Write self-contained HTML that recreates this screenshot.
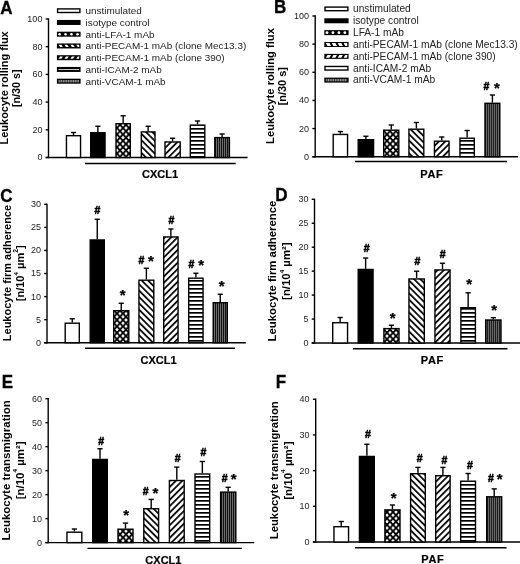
<!DOCTYPE html>
<html><head><meta charset="utf-8"><style>
html,body{margin:0;padding:0;background:#fff;}
svg{display:block;will-change:transform;filter:blur(0.3px);}
text{font-family:"Liberation Sans", sans-serif;}
</style></head><body>
<svg width="520" height="564" viewBox="0 0 520 564" font-family='"Liberation Sans", sans-serif'>
<defs>
<pattern id="pX" patternUnits="userSpaceOnUse" width="6" height="6.4" x="0" y="0">
 <rect width="6" height="6.4" fill="#000"/>
 <path d="M3 1.4 L4.8 3.2 L3 5 L1.2 3.2Z M0 -1.8 L1.8 0 L0 1.8 L-1.8 0Z M6 -1.8 L7.8 0 L6 1.8 L4.2 0Z M0 4.6 L1.8 6.4 L0 8.2 L-1.8 6.4Z M6 4.6 L7.8 6.4 L6 8.2 L4.2 6.4Z" fill="#fff"/>
</pattern>
<pattern id="pB" patternUnits="userSpaceOnUse" width="4.5" height="6" patternTransform="rotate(-45)">
 <rect width="4.5" height="6" fill="#fff"/>
 <rect x="0" y="0" width="1.7" height="6" fill="#000"/>
</pattern>
<pattern id="pF" patternUnits="userSpaceOnUse" width="4.5" height="6" patternTransform="rotate(45)">
 <rect width="4.5" height="6" fill="#fff"/>
 <rect x="0" y="0" width="1.7" height="6" fill="#000"/>
</pattern>
<pattern id="pH" patternUnits="userSpaceOnUse" width="10" height="4" >
 <rect width="10" height="4" fill="#fff"/>
 <rect x="0" y="0" width="10" height="1.7" fill="#000"/>
</pattern>
<pattern id="pVs" patternUnits="userSpaceOnUse" width="1.7" height="10" >
 <rect width="1.7" height="10" fill="#333"/>
 <rect x="0" y="0" width="0.8" height="10" fill="#aaa"/>
</pattern>
<pattern id="pV2" patternUnits="userSpaceOnUse" width="2" height="10" >
 <rect width="2" height="10" fill="#1e1e1e"/>
 <rect x="0" y="0" width="0.7" height="10" fill="#888"/>
</pattern>
<pattern id="pV" patternUnits="userSpaceOnUse" width="2" height="10" >
 <rect width="2" height="10" fill="#111"/>
 <rect x="0" y="0" width="0.6" height="10" fill="#aaa"/>
</pattern>
</defs>
<rect width="520" height="564" fill="#fff"/>
<line x1="48.5" y1="18.35" x2="48.5" y2="158.15" stroke="#000" stroke-width="1.4"/>
<line x1="45.7" y1="157.5" x2="247.6" y2="157.5" stroke="#000" stroke-width="1.4"/>
<line x1="45.7" y1="157.5" x2="48.5" y2="157.5" stroke="#000" stroke-width="1.4"/>
<text transform="translate(42.4,160.4) scale(1.0,1)" text-anchor="end" font-size="9.0" fill="#222">0</text>
<line x1="45.7" y1="129.8" x2="48.5" y2="129.8" stroke="#000" stroke-width="1.4"/>
<text transform="translate(42.4,132.7) scale(1.0,1)" text-anchor="end" font-size="9.0" fill="#222">20</text>
<line x1="45.7" y1="102.1" x2="48.5" y2="102.1" stroke="#000" stroke-width="1.4"/>
<text transform="translate(42.4,105) scale(1.0,1)" text-anchor="end" font-size="9.0" fill="#222">40</text>
<line x1="45.7" y1="74.4" x2="48.5" y2="74.4" stroke="#000" stroke-width="1.4"/>
<text transform="translate(42.4,77.3) scale(1.0,1)" text-anchor="end" font-size="9.0" fill="#222">60</text>
<line x1="45.7" y1="46.7" x2="48.5" y2="46.7" stroke="#000" stroke-width="1.4"/>
<text transform="translate(42.4,49.6) scale(1.0,1)" text-anchor="end" font-size="9.0" fill="#222">80</text>
<line x1="45.7" y1="19" x2="48.5" y2="19" stroke="#000" stroke-width="1.4"/>
<text transform="translate(42.4,21.9) scale(1.0,1)" text-anchor="end" font-size="9.0" fill="#222">100</text>
<line x1="73.5" y1="135" x2="73.5" y2="132.5" stroke="#000" stroke-width="1.4"/>
<line x1="70.9" y1="132.5" x2="76.1" y2="132.5" stroke="#000" stroke-width="1.4"/>
<rect x="66.45" y="135.7" width="14.1" height="21.8" fill="#fff" stroke="#000" stroke-width="1.4"/>
<line x1="97.88" y1="132" x2="97.88" y2="126.25" stroke="#000" stroke-width="1.4"/>
<line x1="95.28" y1="126.25" x2="100.47" y2="126.25" stroke="#000" stroke-width="1.4"/>
<rect x="90.7" y="132.7" width="14.35" height="24.8" fill="#000" stroke="#000" stroke-width="1.4"/>
<line x1="123.15" y1="123" x2="123.15" y2="115.8" stroke="#000" stroke-width="1.4"/>
<line x1="120.55" y1="115.8" x2="125.75" y2="115.8" stroke="#000" stroke-width="1.4"/>
<rect x="116" y="123.7" width="14.3" height="33.8" fill="url(#pX)" stroke="#000" stroke-width="1.4"/>
<line x1="148.15" y1="131.2" x2="148.15" y2="126.25" stroke="#000" stroke-width="1.4"/>
<line x1="145.55" y1="126.25" x2="150.75" y2="126.25" stroke="#000" stroke-width="1.4"/>
<rect x="141.3" y="131.9" width="13.7" height="25.6" fill="url(#pB)" stroke="#000" stroke-width="1.4"/>
<line x1="172.6" y1="141.25" x2="172.6" y2="138.25" stroke="#000" stroke-width="1.4"/>
<line x1="170" y1="138.25" x2="175.2" y2="138.25" stroke="#000" stroke-width="1.4"/>
<rect x="165" y="141.95" width="15.2" height="15.55" fill="url(#pF)" stroke="#000" stroke-width="1.4"/>
<line x1="197.55" y1="124.4" x2="197.55" y2="121" stroke="#000" stroke-width="1.4"/>
<line x1="194.95" y1="121" x2="200.15" y2="121" stroke="#000" stroke-width="1.4"/>
<rect x="190.3" y="125.1" width="14.5" height="32.4" fill="url(#pH)" stroke="#000" stroke-width="1.4"/>
<line x1="222.1" y1="136.9" x2="222.1" y2="134" stroke="#000" stroke-width="1.4"/>
<line x1="219.5" y1="134" x2="224.7" y2="134" stroke="#000" stroke-width="1.4"/>
<rect x="214.8" y="137.6" width="14.6" height="19.9" fill="url(#pV)" stroke="#000" stroke-width="1.4"/>
<line x1="85" y1="163.5" x2="235.7" y2="163.5" stroke="#000" stroke-width="1.4"/>
<text x="160" y="178" text-anchor="middle" font-size="11" font-weight="bold" stroke="#000" stroke-width="0.2">CXCL1</text>
<text transform="translate(0.2,14.2) scale(1,1.08)" font-size="17" font-weight="bold" stroke="#000" stroke-width="0.3">A</text>
<text transform="translate(8.2,87.85) rotate(-90)" text-anchor="middle" font-size="11" font-weight="bold" textLength="113.1" lengthAdjust="spacingAndGlyphs">Leukocyte rolling flux</text>
<text transform="translate(20.3,88.25) rotate(-90)" text-anchor="middle" font-size="11" font-weight="bold" textLength="37.7" lengthAdjust="spacingAndGlyphs">[n/30 s]</text>
<line x1="315.2" y1="15.35" x2="315.2" y2="157.4" stroke="#000" stroke-width="1.4"/>
<line x1="312.4" y1="156.75" x2="518.1" y2="156.75" stroke="#000" stroke-width="1.4"/>
<line x1="312.4" y1="156.75" x2="315.2" y2="156.75" stroke="#000" stroke-width="1.4"/>
<text transform="translate(309.1,159.65) scale(1.0,1)" text-anchor="end" font-size="9.0" fill="#222">0</text>
<line x1="312.4" y1="128.6" x2="315.2" y2="128.6" stroke="#000" stroke-width="1.4"/>
<text transform="translate(309.1,131.5) scale(1.0,1)" text-anchor="end" font-size="9.0" fill="#222">20</text>
<line x1="312.4" y1="100.45" x2="315.2" y2="100.45" stroke="#000" stroke-width="1.4"/>
<text transform="translate(309.1,103.35) scale(1.0,1)" text-anchor="end" font-size="9.0" fill="#222">40</text>
<line x1="312.4" y1="72.3" x2="315.2" y2="72.3" stroke="#000" stroke-width="1.4"/>
<text transform="translate(309.1,75.2) scale(1.0,1)" text-anchor="end" font-size="9.0" fill="#222">60</text>
<line x1="312.4" y1="44.15" x2="315.2" y2="44.15" stroke="#000" stroke-width="1.4"/>
<text transform="translate(309.1,47.05) scale(1.0,1)" text-anchor="end" font-size="9.0" fill="#222">80</text>
<line x1="312.4" y1="16" x2="315.2" y2="16" stroke="#000" stroke-width="1.4"/>
<text transform="translate(309.1,18.9) scale(1.0,1)" text-anchor="end" font-size="9.0" fill="#222">100</text>
<line x1="340.38" y1="133.75" x2="340.38" y2="131.5" stroke="#000" stroke-width="1.4"/>
<line x1="337.77" y1="131.5" x2="342.98" y2="131.5" stroke="#000" stroke-width="1.4"/>
<rect x="333.2" y="134.45" width="14.35" height="22.3" fill="#fff" stroke="#000" stroke-width="1.4"/>
<line x1="365.88" y1="139" x2="365.88" y2="136.25" stroke="#000" stroke-width="1.4"/>
<line x1="363.27" y1="136.25" x2="368.48" y2="136.25" stroke="#000" stroke-width="1.4"/>
<rect x="358.2" y="139.7" width="15.35" height="17.05" fill="#000" stroke="#000" stroke-width="1.4"/>
<line x1="391.25" y1="129.5" x2="391.25" y2="125" stroke="#000" stroke-width="1.4"/>
<line x1="388.65" y1="125" x2="393.85" y2="125" stroke="#000" stroke-width="1.4"/>
<rect x="383.7" y="130.2" width="15.1" height="26.55" fill="url(#pX)" stroke="#000" stroke-width="1.4"/>
<line x1="416.38" y1="128.5" x2="416.38" y2="122.5" stroke="#000" stroke-width="1.4"/>
<line x1="413.77" y1="122.5" x2="418.98" y2="122.5" stroke="#000" stroke-width="1.4"/>
<rect x="408.95" y="129.2" width="14.85" height="27.55" fill="url(#pB)" stroke="#000" stroke-width="1.4"/>
<line x1="441.75" y1="140.5" x2="441.75" y2="137" stroke="#000" stroke-width="1.4"/>
<line x1="439.15" y1="137" x2="444.35" y2="137" stroke="#000" stroke-width="1.4"/>
<rect x="434.45" y="141.2" width="14.6" height="15.55" fill="url(#pF)" stroke="#000" stroke-width="1.4"/>
<line x1="467.12" y1="137.5" x2="467.12" y2="130.5" stroke="#000" stroke-width="1.4"/>
<line x1="464.52" y1="130.5" x2="469.73" y2="130.5" stroke="#000" stroke-width="1.4"/>
<rect x="459.95" y="138.2" width="14.35" height="18.55" fill="url(#pH)" stroke="#000" stroke-width="1.4"/>
<line x1="492.4" y1="102.6" x2="492.4" y2="95" stroke="#000" stroke-width="1.4"/>
<line x1="489.8" y1="95" x2="495" y2="95" stroke="#000" stroke-width="1.4"/>
<rect x="485" y="103.3" width="14.8" height="53.45" fill="url(#pV2)" stroke="#000" stroke-width="1.4"/>
<text x="483.58" y="90.05" font-size="10.5" font-weight="bold" fill="#000" stroke="#000" stroke-width="0.5">#</text>
<text x="494.07" y="92.7" font-size="15" font-weight="bold" fill="#000" stroke="#000" stroke-width="0.25">*</text>
<line x1="355" y1="161.5" x2="507" y2="161.5" stroke="#000" stroke-width="1.4"/>
<text x="431.5" y="177.5" text-anchor="middle" font-size="11" font-weight="bold" stroke="#000" stroke-width="0.2" textLength="22.6" lengthAdjust="spacing">PAF</text>
<text transform="translate(274,13.2) scale(1,1.08)" font-size="17" font-weight="bold" stroke="#000" stroke-width="0.3">B</text>
<text transform="translate(274,86) rotate(-90)" text-anchor="middle" font-size="11" font-weight="bold" textLength="115.8" lengthAdjust="spacingAndGlyphs">Leukocyte rolling flux</text>
<text transform="translate(286.3,86.2) rotate(-90)" text-anchor="middle" font-size="11" font-weight="bold" textLength="38.25" lengthAdjust="spacingAndGlyphs">[n/30 s]</text>
<line x1="47" y1="203.65" x2="47" y2="343.4" stroke="#000" stroke-width="1.4"/>
<line x1="44.2" y1="342.75" x2="245.8" y2="342.75" stroke="#000" stroke-width="1.4"/>
<line x1="44.2" y1="342.75" x2="47" y2="342.75" stroke="#000" stroke-width="1.4"/>
<text transform="translate(40.9,345.65) scale(1.0,1)" text-anchor="end" font-size="9.0" fill="#222">0</text>
<line x1="44.2" y1="319.68" x2="47" y2="319.68" stroke="#000" stroke-width="1.4"/>
<text transform="translate(40.9,322.57) scale(1.0,1)" text-anchor="end" font-size="9.0" fill="#222">5</text>
<line x1="44.2" y1="296.6" x2="47" y2="296.6" stroke="#000" stroke-width="1.4"/>
<text transform="translate(40.9,299.5) scale(1.0,1)" text-anchor="end" font-size="9.0" fill="#222">10</text>
<line x1="44.2" y1="273.52" x2="47" y2="273.52" stroke="#000" stroke-width="1.4"/>
<text transform="translate(40.9,276.42) scale(1.0,1)" text-anchor="end" font-size="9.0" fill="#222">15</text>
<line x1="44.2" y1="250.45" x2="47" y2="250.45" stroke="#000" stroke-width="1.4"/>
<text transform="translate(40.9,253.35) scale(1.0,1)" text-anchor="end" font-size="9.0" fill="#222">20</text>
<line x1="44.2" y1="227.38" x2="47" y2="227.38" stroke="#000" stroke-width="1.4"/>
<text transform="translate(40.9,230.28) scale(1.0,1)" text-anchor="end" font-size="9.0" fill="#222">25</text>
<line x1="44.2" y1="204.3" x2="47" y2="204.3" stroke="#000" stroke-width="1.4"/>
<text transform="translate(40.9,207.2) scale(1.0,1)" text-anchor="end" font-size="9.0" fill="#222">30</text>
<line x1="72.25" y1="322.5" x2="72.25" y2="318.75" stroke="#000" stroke-width="1.4"/>
<line x1="69.65" y1="318.75" x2="74.85" y2="318.75" stroke="#000" stroke-width="1.4"/>
<rect x="65.2" y="323.2" width="14.1" height="19.55" fill="#fff" stroke="#000" stroke-width="1.4"/>
<line x1="97.25" y1="239.25" x2="97.25" y2="219.25" stroke="#000" stroke-width="1.4"/>
<line x1="94.65" y1="219.25" x2="99.85" y2="219.25" stroke="#000" stroke-width="1.4"/>
<rect x="90.2" y="239.95" width="14.1" height="102.8" fill="#000" stroke="#000" stroke-width="1.4"/>
<line x1="121.25" y1="310" x2="121.25" y2="303.25" stroke="#000" stroke-width="1.4"/>
<line x1="118.65" y1="303.25" x2="123.85" y2="303.25" stroke="#000" stroke-width="1.4"/>
<rect x="113.7" y="310.7" width="15.1" height="32.05" fill="url(#pX)" stroke="#000" stroke-width="1.4"/>
<line x1="146.38" y1="279.5" x2="146.38" y2="268.25" stroke="#000" stroke-width="1.4"/>
<line x1="143.78" y1="268.25" x2="148.97" y2="268.25" stroke="#000" stroke-width="1.4"/>
<rect x="138.95" y="280.2" width="14.85" height="62.55" fill="url(#pB)" stroke="#000" stroke-width="1.4"/>
<line x1="170.88" y1="236.25" x2="170.88" y2="229" stroke="#000" stroke-width="1.4"/>
<line x1="168.28" y1="229" x2="173.47" y2="229" stroke="#000" stroke-width="1.4"/>
<rect x="163.7" y="236.95" width="14.35" height="105.8" fill="url(#pF)" stroke="#000" stroke-width="1.4"/>
<line x1="195.88" y1="277.5" x2="195.88" y2="273.25" stroke="#000" stroke-width="1.4"/>
<line x1="193.28" y1="273.25" x2="198.47" y2="273.25" stroke="#000" stroke-width="1.4"/>
<rect x="188.7" y="278.2" width="14.35" height="64.55" fill="url(#pH)" stroke="#000" stroke-width="1.4"/>
<line x1="220.25" y1="302" x2="220.25" y2="294.25" stroke="#000" stroke-width="1.4"/>
<line x1="217.65" y1="294.25" x2="222.85" y2="294.25" stroke="#000" stroke-width="1.4"/>
<rect x="213.2" y="302.7" width="14.1" height="40.05" fill="url(#pV)" stroke="#000" stroke-width="1.4"/>
<text x="94.48" y="213.9" font-size="10.5" font-weight="bold" fill="#000" stroke="#000" stroke-width="0.5">#</text>
<text x="119.82" y="300.35" font-size="15" font-weight="bold" fill="#000" stroke="#000" stroke-width="0.25">*</text>
<text x="138.58" y="264.1" font-size="10.5" font-weight="bold" fill="#000" stroke="#000" stroke-width="0.5">#</text>
<text x="147.97" y="266.05" font-size="15" font-weight="bold" fill="#000" stroke="#000" stroke-width="0.25">*</text>
<text x="168.48" y="223.8" font-size="10.5" font-weight="bold" fill="#000" stroke="#000" stroke-width="0.5">#</text>
<text x="188.58" y="268" font-size="10.5" font-weight="bold" fill="#000" stroke="#000" stroke-width="0.5">#</text>
<text x="198.27" y="270.45" font-size="15" font-weight="bold" fill="#000" stroke="#000" stroke-width="0.25">*</text>
<text x="218.87" y="290.85" font-size="15" font-weight="bold" fill="#000" stroke="#000" stroke-width="0.25">*</text>
<line x1="85" y1="348.25" x2="235" y2="348.25" stroke="#000" stroke-width="1.4"/>
<text x="158.5" y="363.7" text-anchor="middle" font-size="11" font-weight="bold" stroke="#000" stroke-width="0.2">CXCL1</text>
<text transform="translate(0.3,201.8) scale(1,1.08)" font-size="17" font-weight="bold" stroke="#000" stroke-width="0.3">C</text>
<text transform="translate(10.7,273.05) rotate(-90)" text-anchor="middle" font-size="11" font-weight="bold" textLength="136.3" lengthAdjust="spacingAndGlyphs">Leukocyte firm adherence</text>
<text transform="translate(23.8,273.35) rotate(-90)" text-anchor="middle" font-size="11" font-weight="bold" textLength="55.9" lengthAdjust="spacingAndGlyphs">[n/10<tspan font-size="6.2" dy="-6.2">4</tspan><tspan dy="6.2"> µm</tspan><tspan font-size="6.6" dy="-5.8">2</tspan><tspan dy="5.8">]</tspan></text>
<line x1="314.5" y1="198.65" x2="314.5" y2="343.65" stroke="#000" stroke-width="1.4"/>
<line x1="311.7" y1="343" x2="520" y2="343" stroke="#000" stroke-width="1.4"/>
<line x1="311.7" y1="343" x2="314.5" y2="343" stroke="#000" stroke-width="1.4"/>
<text transform="translate(308.4,345.9) scale(1.0,1)" text-anchor="end" font-size="9.0" fill="#222">0</text>
<line x1="311.7" y1="319.05" x2="314.5" y2="319.05" stroke="#000" stroke-width="1.4"/>
<text transform="translate(308.4,321.95) scale(1.0,1)" text-anchor="end" font-size="9.0" fill="#222">5</text>
<line x1="311.7" y1="295.1" x2="314.5" y2="295.1" stroke="#000" stroke-width="1.4"/>
<text transform="translate(308.4,298) scale(1.0,1)" text-anchor="end" font-size="9.0" fill="#222">10</text>
<line x1="311.7" y1="271.15" x2="314.5" y2="271.15" stroke="#000" stroke-width="1.4"/>
<text transform="translate(308.4,274.05) scale(1.0,1)" text-anchor="end" font-size="9.0" fill="#222">15</text>
<line x1="311.7" y1="247.2" x2="314.5" y2="247.2" stroke="#000" stroke-width="1.4"/>
<text transform="translate(308.4,250.1) scale(1.0,1)" text-anchor="end" font-size="9.0" fill="#222">20</text>
<line x1="311.7" y1="223.25" x2="314.5" y2="223.25" stroke="#000" stroke-width="1.4"/>
<text transform="translate(308.4,226.15) scale(1.0,1)" text-anchor="end" font-size="9.0" fill="#222">25</text>
<line x1="311.7" y1="199.3" x2="314.5" y2="199.3" stroke="#000" stroke-width="1.4"/>
<text transform="translate(308.4,202.2) scale(1.0,1)" text-anchor="end" font-size="9.0" fill="#222">30</text>
<line x1="340.12" y1="322" x2="340.12" y2="317.5" stroke="#000" stroke-width="1.4"/>
<line x1="337.52" y1="317.5" x2="342.73" y2="317.5" stroke="#000" stroke-width="1.4"/>
<rect x="332.7" y="322.7" width="14.85" height="20.3" fill="#fff" stroke="#000" stroke-width="1.4"/>
<line x1="365.62" y1="268.75" x2="365.62" y2="258" stroke="#000" stroke-width="1.4"/>
<line x1="363.02" y1="258" x2="368.23" y2="258" stroke="#000" stroke-width="1.4"/>
<rect x="358.2" y="269.45" width="14.85" height="73.55" fill="#000" stroke="#000" stroke-width="1.4"/>
<line x1="391.45" y1="327.9" x2="391.45" y2="325.2" stroke="#000" stroke-width="1.4"/>
<line x1="388.85" y1="325.2" x2="394.05" y2="325.2" stroke="#000" stroke-width="1.4"/>
<rect x="383.9" y="328.6" width="15.1" height="14.4" fill="url(#pX)" stroke="#000" stroke-width="1.4"/>
<line x1="416.62" y1="278.25" x2="416.62" y2="271.25" stroke="#000" stroke-width="1.4"/>
<line x1="414.02" y1="271.25" x2="419.23" y2="271.25" stroke="#000" stroke-width="1.4"/>
<rect x="408.95" y="278.95" width="15.35" height="64.05" fill="url(#pB)" stroke="#000" stroke-width="1.4"/>
<line x1="442.5" y1="269.25" x2="442.5" y2="263.25" stroke="#000" stroke-width="1.4"/>
<line x1="439.9" y1="263.25" x2="445.1" y2="263.25" stroke="#000" stroke-width="1.4"/>
<rect x="434.95" y="269.95" width="15.1" height="73.05" fill="url(#pF)" stroke="#000" stroke-width="1.4"/>
<line x1="468.15" y1="307" x2="468.15" y2="292.8" stroke="#000" stroke-width="1.4"/>
<line x1="465.55" y1="292.8" x2="470.75" y2="292.8" stroke="#000" stroke-width="1.4"/>
<rect x="460.9" y="307.7" width="14.5" height="35.3" fill="url(#pH)" stroke="#000" stroke-width="1.4"/>
<line x1="493.35" y1="319.3" x2="493.35" y2="317.7" stroke="#000" stroke-width="1.4"/>
<line x1="490.75" y1="317.7" x2="495.95" y2="317.7" stroke="#000" stroke-width="1.4"/>
<rect x="485.7" y="320" width="15.3" height="23" fill="url(#pV2)" stroke="#000" stroke-width="1.4"/>
<text x="363.83" y="251.8" font-size="10.5" font-weight="bold" fill="#000" stroke="#000" stroke-width="0.5">#</text>
<text x="389.67" y="323.15" font-size="15" font-weight="bold" fill="#000" stroke="#000" stroke-width="0.25">*</text>
<text x="414.48" y="264.5" font-size="10.5" font-weight="bold" fill="#000" stroke="#000" stroke-width="0.5">#</text>
<text x="439.83" y="258.3" font-size="10.5" font-weight="bold" fill="#000" stroke="#000" stroke-width="0.5">#</text>
<text x="466.32" y="289.05" font-size="15" font-weight="bold" fill="#000" stroke="#000" stroke-width="0.25">*</text>
<text x="491.37" y="315.05" font-size="15" font-weight="bold" fill="#000" stroke="#000" stroke-width="0.25">*</text>
<line x1="353" y1="348.8" x2="507.5" y2="348.8" stroke="#000" stroke-width="1.4"/>
<text x="432" y="364" text-anchor="middle" font-size="11" font-weight="bold" stroke="#000" stroke-width="0.2" textLength="22.6" lengthAdjust="spacing">PAF</text>
<text transform="translate(275.2,200.8) scale(1,1.08)" font-size="17" font-weight="bold" stroke="#000" stroke-width="0.3">D</text>
<text transform="translate(276,271) rotate(-90)" text-anchor="middle" font-size="11" font-weight="bold" textLength="140.8" lengthAdjust="spacingAndGlyphs">Leukocyte firm adherence</text>
<text transform="translate(290.1,271.15) rotate(-90)" text-anchor="middle" font-size="11" font-weight="bold" textLength="57.5" lengthAdjust="spacingAndGlyphs">[n/10<tspan font-size="6.2" dy="-6.2">4</tspan><tspan dy="6.2"> µm²]</tspan></text>
<line x1="48.2" y1="398.05" x2="48.2" y2="543.25" stroke="#000" stroke-width="1.4"/>
<line x1="45.4" y1="542.6" x2="254.25" y2="542.6" stroke="#000" stroke-width="1.4"/>
<line x1="45.4" y1="542.6" x2="48.2" y2="542.6" stroke="#000" stroke-width="1.4"/>
<text transform="translate(42.1,545.5) scale(1.0,1)" text-anchor="end" font-size="9.0" fill="#222">0</text>
<line x1="45.4" y1="518.62" x2="48.2" y2="518.62" stroke="#000" stroke-width="1.4"/>
<text transform="translate(42.1,521.52) scale(1.0,1)" text-anchor="end" font-size="9.0" fill="#222">10</text>
<line x1="45.4" y1="494.63" x2="48.2" y2="494.63" stroke="#000" stroke-width="1.4"/>
<text transform="translate(42.1,497.53) scale(1.0,1)" text-anchor="end" font-size="9.0" fill="#222">20</text>
<line x1="45.4" y1="470.65" x2="48.2" y2="470.65" stroke="#000" stroke-width="1.4"/>
<text transform="translate(42.1,473.55) scale(1.0,1)" text-anchor="end" font-size="9.0" fill="#222">30</text>
<line x1="45.4" y1="446.67" x2="48.2" y2="446.67" stroke="#000" stroke-width="1.4"/>
<text transform="translate(42.1,449.57) scale(1.0,1)" text-anchor="end" font-size="9.0" fill="#222">40</text>
<line x1="45.4" y1="422.68" x2="48.2" y2="422.68" stroke="#000" stroke-width="1.4"/>
<text transform="translate(42.1,425.58) scale(1.0,1)" text-anchor="end" font-size="9.0" fill="#222">50</text>
<line x1="45.4" y1="398.7" x2="48.2" y2="398.7" stroke="#000" stroke-width="1.4"/>
<text transform="translate(42.1,401.6) scale(1.0,1)" text-anchor="end" font-size="9.0" fill="#222">60</text>
<line x1="74.38" y1="531.5" x2="74.38" y2="529" stroke="#000" stroke-width="1.4"/>
<line x1="71.78" y1="529" x2="76.97" y2="529" stroke="#000" stroke-width="1.4"/>
<rect x="66.95" y="532.2" width="14.85" height="10.4" fill="#fff" stroke="#000" stroke-width="1.4"/>
<line x1="100" y1="458.75" x2="100" y2="448.75" stroke="#000" stroke-width="1.4"/>
<line x1="97.4" y1="448.75" x2="102.6" y2="448.75" stroke="#000" stroke-width="1.4"/>
<rect x="92.7" y="459.45" width="14.6" height="83.15" fill="#000" stroke="#000" stroke-width="1.4"/>
<line x1="125.5" y1="528.5" x2="125.5" y2="523.1" stroke="#000" stroke-width="1.4"/>
<line x1="122.9" y1="523.1" x2="128.1" y2="523.1" stroke="#000" stroke-width="1.4"/>
<rect x="118" y="529.2" width="15" height="13.4" fill="url(#pX)" stroke="#000" stroke-width="1.4"/>
<line x1="151.2" y1="508" x2="151.2" y2="499.4" stroke="#000" stroke-width="1.4"/>
<line x1="148.6" y1="499.4" x2="153.8" y2="499.4" stroke="#000" stroke-width="1.4"/>
<rect x="143.8" y="508.7" width="14.8" height="33.9" fill="url(#pB)" stroke="#000" stroke-width="1.4"/>
<line x1="176.8" y1="479.8" x2="176.8" y2="467.1" stroke="#000" stroke-width="1.4"/>
<line x1="174.2" y1="467.1" x2="179.4" y2="467.1" stroke="#000" stroke-width="1.4"/>
<rect x="169.4" y="480.5" width="14.8" height="62.1" fill="url(#pF)" stroke="#000" stroke-width="1.4"/>
<line x1="202.35" y1="473.3" x2="202.35" y2="461.5" stroke="#000" stroke-width="1.4"/>
<line x1="199.75" y1="461.5" x2="204.95" y2="461.5" stroke="#000" stroke-width="1.4"/>
<rect x="195" y="474" width="14.7" height="68.6" fill="url(#pH)" stroke="#000" stroke-width="1.4"/>
<line x1="228.2" y1="491.4" x2="228.2" y2="487.3" stroke="#000" stroke-width="1.4"/>
<line x1="225.6" y1="487.3" x2="230.8" y2="487.3" stroke="#000" stroke-width="1.4"/>
<rect x="220.6" y="492.1" width="15.2" height="50.5" fill="url(#pV)" stroke="#000" stroke-width="1.4"/>
<text x="98.18" y="444.9" font-size="10.5" font-weight="bold" fill="#000" stroke="#000" stroke-width="0.5">#</text>
<text x="123.17" y="520.15" font-size="15" font-weight="bold" fill="#000" stroke="#000" stroke-width="0.25">*</text>
<text x="142.68" y="494.65" font-size="10.5" font-weight="bold" fill="#000" stroke="#000" stroke-width="0.5">#</text>
<text x="152.57" y="498.05" font-size="15" font-weight="bold" fill="#000" stroke="#000" stroke-width="0.25">*</text>
<text x="174.73" y="462.15" font-size="10.5" font-weight="bold" fill="#000" stroke="#000" stroke-width="0.5">#</text>
<text x="200.48" y="455.65" font-size="10.5" font-weight="bold" fill="#000" stroke="#000" stroke-width="0.5">#</text>
<text x="221.83" y="481.7" font-size="10.5" font-weight="bold" fill="#000" stroke="#000" stroke-width="0.5">#</text>
<text x="230.77" y="484.45" font-size="15" font-weight="bold" fill="#000" stroke="#000" stroke-width="0.25">*</text>
<line x1="87.5" y1="548.4" x2="241.8" y2="548.4" stroke="#000" stroke-width="1.4"/>
<text x="163.4" y="564.2" text-anchor="middle" font-size="11" font-weight="bold" stroke="#000" stroke-width="0.2">CXCL1</text>
<text transform="translate(1.8,387.9) scale(1,1.08)" font-size="17" font-weight="bold" stroke="#000" stroke-width="0.3">E</text>
<text transform="translate(10.1,470.35) rotate(-90)" text-anchor="middle" font-size="11" font-weight="bold" textLength="140.1" lengthAdjust="spacingAndGlyphs">Leukocyte transmigration</text>
<text transform="translate(23.5,470.35) rotate(-90)" text-anchor="middle" font-size="11" font-weight="bold" textLength="57.7" lengthAdjust="spacingAndGlyphs">[n/10<tspan font-size="6.2" dy="-6.2">4</tspan><tspan dy="6.2"> µm²]</tspan></text>
<line x1="315.7" y1="398.6" x2="315.7" y2="542.65" stroke="#000" stroke-width="1.4"/>
<line x1="312.9" y1="542" x2="520" y2="542" stroke="#000" stroke-width="1.4"/>
<line x1="312.9" y1="542" x2="315.7" y2="542" stroke="#000" stroke-width="1.4"/>
<text transform="translate(309.6,544.9) scale(1.0,1)" text-anchor="end" font-size="9.0" fill="#222">0</text>
<line x1="312.9" y1="506.31" x2="315.7" y2="506.31" stroke="#000" stroke-width="1.4"/>
<text transform="translate(309.6,509.21) scale(1.0,1)" text-anchor="end" font-size="9.0" fill="#222">10</text>
<line x1="312.9" y1="470.62" x2="315.7" y2="470.62" stroke="#000" stroke-width="1.4"/>
<text transform="translate(309.6,473.52) scale(1.0,1)" text-anchor="end" font-size="9.0" fill="#222">20</text>
<line x1="312.9" y1="434.94" x2="315.7" y2="434.94" stroke="#000" stroke-width="1.4"/>
<text transform="translate(309.6,437.84) scale(1.0,1)" text-anchor="end" font-size="9.0" fill="#222">30</text>
<line x1="312.9" y1="399.25" x2="315.7" y2="399.25" stroke="#000" stroke-width="1.4"/>
<text transform="translate(309.6,402.15) scale(1.0,1)" text-anchor="end" font-size="9.0" fill="#222">40</text>
<line x1="341.25" y1="526" x2="341.25" y2="521.5" stroke="#000" stroke-width="1.4"/>
<line x1="338.65" y1="521.5" x2="343.85" y2="521.5" stroke="#000" stroke-width="1.4"/>
<rect x="333.95" y="526.7" width="14.6" height="15.3" fill="#fff" stroke="#000" stroke-width="1.4"/>
<line x1="366.88" y1="455.75" x2="366.88" y2="444.25" stroke="#000" stroke-width="1.4"/>
<line x1="364.27" y1="444.25" x2="369.48" y2="444.25" stroke="#000" stroke-width="1.4"/>
<rect x="359.45" y="456.45" width="14.85" height="85.55" fill="#000" stroke="#000" stroke-width="1.4"/>
<line x1="392.45" y1="509.2" x2="392.45" y2="505" stroke="#000" stroke-width="1.4"/>
<line x1="389.85" y1="505" x2="395.05" y2="505" stroke="#000" stroke-width="1.4"/>
<rect x="384.9" y="509.9" width="15.1" height="32.1" fill="url(#pX)" stroke="#000" stroke-width="1.4"/>
<line x1="417.95" y1="473" x2="417.95" y2="467.4" stroke="#000" stroke-width="1.4"/>
<line x1="415.35" y1="467.4" x2="420.55" y2="467.4" stroke="#000" stroke-width="1.4"/>
<rect x="410.6" y="473.7" width="14.7" height="68.3" fill="url(#pB)" stroke="#000" stroke-width="1.4"/>
<line x1="442.9" y1="475" x2="442.9" y2="467.4" stroke="#000" stroke-width="1.4"/>
<line x1="440.3" y1="467.4" x2="445.5" y2="467.4" stroke="#000" stroke-width="1.4"/>
<rect x="435.7" y="475.7" width="14.4" height="66.3" fill="url(#pF)" stroke="#000" stroke-width="1.4"/>
<line x1="468.1" y1="480.5" x2="468.1" y2="473.5" stroke="#000" stroke-width="1.4"/>
<line x1="465.5" y1="473.5" x2="470.7" y2="473.5" stroke="#000" stroke-width="1.4"/>
<rect x="460.7" y="481.2" width="14.8" height="60.8" fill="url(#pH)" stroke="#000" stroke-width="1.4"/>
<line x1="494.2" y1="496.1" x2="494.2" y2="488.9" stroke="#000" stroke-width="1.4"/>
<line x1="491.6" y1="488.9" x2="496.8" y2="488.9" stroke="#000" stroke-width="1.4"/>
<rect x="486.7" y="496.8" width="15" height="45.2" fill="url(#pV2)" stroke="#000" stroke-width="1.4"/>
<text x="365.08" y="437.65" font-size="10.5" font-weight="bold" fill="#000" stroke="#000" stroke-width="0.5">#</text>
<text x="390.72" y="503.35" font-size="15" font-weight="bold" fill="#000" stroke="#000" stroke-width="0.25">*</text>
<text x="416.78" y="462.1" font-size="10.5" font-weight="bold" fill="#000" stroke="#000" stroke-width="0.5">#</text>
<text x="441.58" y="463.6" font-size="10.5" font-weight="bold" fill="#000" stroke="#000" stroke-width="0.5">#</text>
<text x="466.98" y="468.8" font-size="10.5" font-weight="bold" fill="#000" stroke="#000" stroke-width="0.5">#</text>
<text x="488.08" y="482.15" font-size="10.5" font-weight="bold" fill="#000" stroke="#000" stroke-width="0.5">#</text>
<text x="496.87" y="483.75" font-size="15" font-weight="bold" fill="#000" stroke="#000" stroke-width="0.25">*</text>
<line x1="355" y1="547.7" x2="506.6" y2="547.7" stroke="#000" stroke-width="1.4"/>
<text x="432.5" y="562.8" text-anchor="middle" font-size="11" font-weight="bold" stroke="#000" stroke-width="0.2" textLength="22.6" lengthAdjust="spacing">PAF</text>
<text transform="translate(275.8,387.9) scale(1,1.08)" font-size="17" font-weight="bold" stroke="#000" stroke-width="0.3">F</text>
<text transform="translate(278.4,470.25) rotate(-90)" text-anchor="middle" font-size="11" font-weight="bold" textLength="137.9" lengthAdjust="spacingAndGlyphs">Leukocyte transmigration</text>
<text transform="translate(291.6,470.65) rotate(-90)" text-anchor="middle" font-size="11" font-weight="bold" textLength="58.3" lengthAdjust="spacingAndGlyphs">[n/10<tspan font-size="6.2" dy="-6.2">4</tspan><tspan dy="6.2"> µm²]</tspan></text>
<rect x="57.6" y="8.9" width="22.3" height="3.6" fill="#fff" stroke="#000" stroke-width="1.4"/>
<text x="85.5" y="14" font-size="9.95" fill="#222">unstimulated</text>
<rect x="56.9" y="19.95" width="23.7" height="5" fill="#000"/>
<text x="85.5" y="25.75" font-size="9.95" fill="#222">isotype control</text>
<rect x="56.9" y="31.7" width="23.7" height="5" fill="#000"/>
<circle cx="59.6" cy="34.2" r="1.3" fill="#fff"/>
<circle cx="65.55" cy="34.2" r="1.3" fill="#fff"/>
<circle cx="71.5" cy="34.2" r="1.3" fill="#fff"/>
<circle cx="77.45" cy="34.2" r="1.3" fill="#fff"/>
<text x="85.5" y="37.5" font-size="9.95" fill="#222">anti-LFA-1 mAb</text>
<rect x="56.9" y="43.45" width="23.7" height="5" fill="#000"/>
<polygon points="58.5,44.8 61.3,44.8 62.9,47.1 60.1,47.1" fill="#fff"/>
<polygon points="64.4,44.8 67.2,44.8 68.8,47.1 66,47.1" fill="#fff"/>
<polygon points="70.3,44.8 73.1,44.8 74.7,47.1 71.9,47.1" fill="#fff"/>
<polygon points="76.2,44.8 79,44.8 79.3,47.1 77.8,47.1" fill="#fff"/>
<text x="85.5" y="49.25" font-size="9.95" fill="#222">anti-PECAM-1 mAb (clone Mec13.3)</text>
<rect x="56.9" y="55.2" width="23.7" height="5" fill="#000"/>
<polygon points="60.1,56.55 62.9,56.55 61.3,58.85 58.5,58.85" fill="#fff"/>
<polygon points="66,56.55 68.8,56.55 67.2,58.85 64.4,58.85" fill="#fff"/>
<polygon points="71.9,56.55 74.7,56.55 73.1,58.85 70.3,58.85" fill="#fff"/>
<polygon points="77.8,56.55 79.3,56.55 79,58.85 76.2,58.85" fill="#fff"/>
<text x="85.5" y="61" font-size="9.95" fill="#222">anti-PECAM-1 mAb (clone 390)</text>
<rect x="56.9" y="66.95" width="23.7" height="5" fill="#000"/>
<rect x="58.5" y="69" width="20.5" height="0.9" fill="#ddd"/>
<text x="85.5" y="72.75" font-size="9.95" fill="#222">anti-ICAM-2 mAb</text>
<rect x="56.9" y="78.7" width="23.7" height="5" fill="#000"/>
<rect x="58.4" y="80" width="20.7" height="2.4" fill="url(#pVs)"/>
<text x="85.5" y="84.5" font-size="9.95" fill="#222">anti-VCAM-1 mAb</text>
<rect x="325" y="7.1" width="22.9" height="3.6" fill="#fff" stroke="#000" stroke-width="1.4"/>
<text x="353" y="12.2" font-size="10.2" fill="#222">unstimulated</text>
<rect x="324.3" y="18.27" width="24.3" height="5" fill="#000"/>
<text x="353" y="24.07" font-size="10.2" fill="#222">isotype control</text>
<rect x="324.3" y="30.14" width="24.3" height="5" fill="#000"/>
<circle cx="327" cy="32.64" r="1.45" fill="#fff"/>
<circle cx="332.95" cy="32.64" r="1.45" fill="#fff"/>
<circle cx="338.9" cy="32.64" r="1.45" fill="#fff"/>
<circle cx="344.85" cy="32.64" r="1.45" fill="#fff"/>
<text x="353" y="35.94" font-size="10.2" fill="#222">LFA-1 mAb</text>
<rect x="324.3" y="42.01" width="24.3" height="5" fill="#000"/>
<polygon points="325.9,43.11 329.5,43.11 331.1,45.91 327.5,45.91" fill="#fff"/>
<polygon points="331.8,43.11 335.4,43.11 337,45.91 333.4,45.91" fill="#fff"/>
<polygon points="337.7,43.11 341.3,43.11 342.9,45.91 339.3,45.91" fill="#fff"/>
<polygon points="343.6,43.11 347.2,43.11 347.3,45.91 345.2,45.91" fill="#fff"/>
<text x="353" y="47.81" font-size="10.2" fill="#222">anti-PECAM-1 mAb (clone Mec13.3)</text>
<rect x="324.3" y="53.88" width="24.3" height="5" fill="#000"/>
<polygon points="327.5,54.98 331.1,54.98 329.5,57.78 325.9,57.78" fill="#fff"/>
<polygon points="333.4,54.98 337,54.98 335.4,57.78 331.8,57.78" fill="#fff"/>
<polygon points="339.3,54.98 342.9,54.98 341.3,57.78 337.7,57.78" fill="#fff"/>
<polygon points="345.2,54.98 347.3,54.98 347.2,57.78 343.6,57.78" fill="#fff"/>
<text x="353" y="59.68" font-size="10.2" fill="#222">anti-PECAM-1 mAb (clone 390)</text>
<rect x="325" y="66.45" width="22.9" height="3.6" fill="#fff" stroke="#000" stroke-width="1.4"/>
<text x="353" y="71.55" font-size="10.2" fill="#222">anti-ICAM-2 mAb</text>
<rect x="324.3" y="77.62" width="24.3" height="5" fill="#000"/>
<rect x="325.8" y="78.92" width="21.3" height="2.4" fill="url(#pVs)"/>
<text x="353" y="83.42" font-size="10.2" fill="#222">anti-VCAM-1 mAb</text>
</svg>
</body></html>
